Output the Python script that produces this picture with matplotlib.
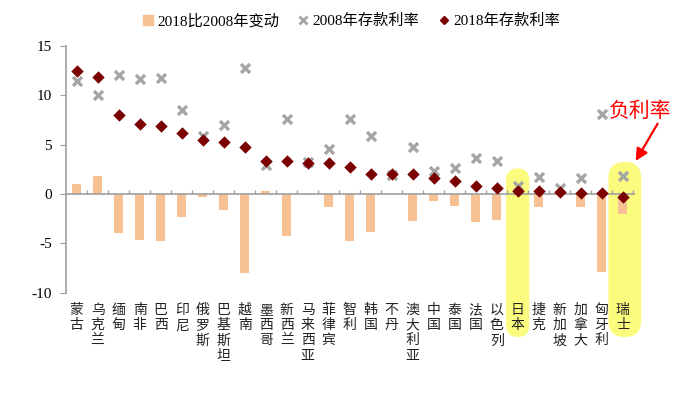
import matplotlib
matplotlib.use("Agg")
import matplotlib.pyplot as plt
from matplotlib.patches import FancyBboxPatch
from matplotlib.lines import Line2D

plt.rcParams['font.family'] = ['Liberation Serif', 'Noto Sans CJK SC']
plt.rcParams['axes.unicode_minus'] = False

# data
countries = ['蒙古', '乌克兰', '缅甸', '南非', '巴西', '印尼', '俄罗斯', '巴基斯坦', '越南',
             '墨西哥', '新西兰', '马来西亚', '菲律宾', '智利', '韩国', '不丹', '澳大利亚',
             '中国', '泰国', '法国', '以色列', '日本', '捷克', '新加坡', '加拿大', '匈牙利', '瑞士']
rate_2018 = [12.5, 11.8, 8.05, 7.05, 6.9, 6.17, 5.43, 5.26, 4.72, 3.37, 3.34, 3.17, 3.13,
             2.76, 2.06, 2.06, 2.06, 1.58, 1.31, 0.84, 0.64, 0.34, 0.34, 0.17, 0.15, 0.12, -0.3]
rate_2008 = [11.4, 10.0, 12.1, 11.66, 11.7, 8.56, 5.9, 6.98, 12.8, 2.97, 7.58, 3.24, 4.55,
             7.58, 5.9, 1.98, 4.79, 2.36, 2.66, 3.7, 3.34, 0.84, 1.7, 0.66, 1.6, 8.1, 1.87]
change = [1.05, 1.85, -3.95, -4.6, -4.75, -2.36, -0.3, -1.65, -8.0, 0.27, -4.28, -0.07, -1.35,
          -4.75, -3.8, 0.05, -2.73, -0.7, -1.18, -2.86, -2.66, -0.05, -1.35, -0.1, -1.35, -7.92, -2.05]
yticks = [-10, -5, 0, 5, 10, 15]
highlighted = ['日本', '瑞士']

bar_color = '#F8C194'
x_color = '#A5A5A5'
d_color = '#7B0000'
axis_color = '#A0A0A0'

fig = plt.figure(figsize=(6.85, 3.99), dpi=100)
ax = fig.add_axes([0.096, 0.266, 0.829, 0.619])
ax.set_facecolor('none')

xs = list(range(len(countries)))
ax.bar(xs, change, width=0.43, color=bar_color, zorder=2)
ax.scatter(xs, rate_2008, marker='x', s=42, color=x_color, linewidths=2.4, zorder=3)
ax.scatter(xs, rate_2018, marker='D', s=40, color=d_color, linewidths=0, zorder=4)

ax.set_xlim(-0.52, len(countries) - 0.48)
ax.set_ylim(-10, 15)
ax.set_yticks(yticks)
ax.set_yticklabels([str(v) for v in yticks], fontsize=11)

for s in ['top', 'right']:
    ax.spines[s].set_visible(False)
ax.spines['bottom'].set_position(('data', 0))
ax.spines['bottom'].set_color(axis_color)
ax.spines['left'].set_color(axis_color)
ax.spines['bottom'].set_linewidth(1.2)
ax.spines['left'].set_linewidth(1.2)
ax.tick_params(axis='y', direction='out', length=4, color=axis_color, pad=6)
ax.set_xticks([i + 0.5 for i in xs])
ax.set_xticklabels([])
ax.tick_params(axis='x', direction='in', length=3, color=axis_color, width=1)

# vertical category labels below the plot
for i, name in enumerate(countries):
    ax.text(i, -0.04, '\n'.join(name), transform=ax.get_xaxis_transform(),
            ha='center', va='top', fontsize=10, linespacing=1.12,
            family='Noto Sans CJK SC', color='#222222')

# yellow highlight pills (drawn behind the axes, in inches)
fig.canvas.draw()
to_in = fig.dpi_scale_trans.inverted()
for name, top in zip(highlighted, [2.6, 3.25]):
    i = countries.index(name)
    half = 0.55 if name == '日本' else 0.68
    x0, y0 = to_in.transform(ax.transData.transform((i - half, top)))
    x1, _ = to_in.transform(ax.transData.transform((i + half + (0.2 if name == '瑞士' else 0), top)))
    ybot = 0.62
    w = x1 - x0
    pill = FancyBboxPatch((x0, ybot), w, y0 - ybot,
                          boxstyle='round,pad=0,rounding_size=%f' % (w / 2),
                          transform=fig.dpi_scale_trans, facecolor='#FBFB7E',
                          edgecolor='none', zorder=-1)
    fig.add_artist(pill)

# annotation: label and arrow
fig.text(0.935, 0.722, '负利率', ha='center', va='center', fontsize=15,
         color='#FF0000', family='Noto Sans CJK SC')
ax.annotate('', xy=(26.62, 3.35), xytext=(0.96, 0.69), textcoords='figure fraction',
            arrowprops=dict(arrowstyle='-|>', color='#FF0000', lw=1.6,
                            mutation_scale=18, shrinkA=0, shrinkB=0),
            annotation_clip=False, zorder=6)

handles = [
    Line2D([], [], marker='s', linestyle='none', color=bar_color, markersize=7),
    Line2D([], [], marker='x', linestyle='none', color=x_color, markersize=6, markeredgewidth=2),
    Line2D([], [], marker='D', linestyle='none', color=d_color, markersize=4),
]
labels = ['2018比2008年变动', '2008年存款利率', '2018年存款利率']
fig.legend(handles, labels, loc='center', bbox_to_anchor=(0.513, 0.947), ncol=3,
           frameon=False, fontsize=11, handlelength=0.6, handletextpad=0.3,
           columnspacing=1.3)

fig.savefig('out.png', dpi=100)
